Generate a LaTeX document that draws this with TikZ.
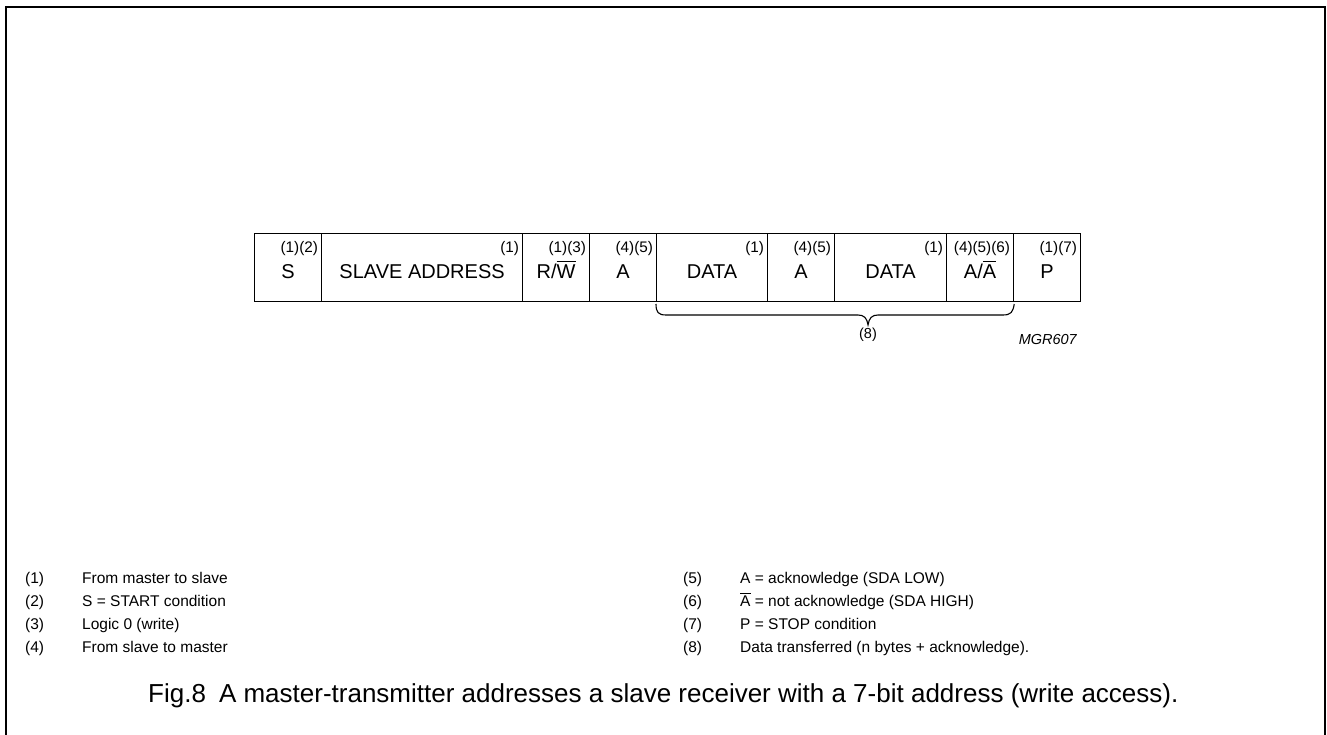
\documentclass[tikz,border=0pt]{standalone}
\usepackage{fontspec}
\setmainfont{Liberation Sans}
\newcommand\myovl[1]{\leavevmode\vbox{\hrule height 0.065em\kern0.1em\hbox{#1}}}
\begin{document}
\begin{tikzpicture}[x=1pt,y=-1pt,
  cell/.style={draw, line width=1.2pt, inner sep=0pt, minimum height=68pt, anchor=north west},
  main/.style={anchor=base, inner sep=0pt, font=\fontsize{20}{24}\selectfont},
  lab/.style={anchor=base east, inner sep=0pt, font=\fontsize{15.3}{18}\selectfont},
  leg/.style={anchor=base west, inner sep=0pt, font=\fontsize{15.5}{18}\selectfont},
  brace/.style={line width=1.1pt}]
\useasboundingbox (0,0) rectangle (1327,735);
\draw[line width=2pt] (6,736) -- (6,7) -- (1325,7) -- (1325,736);

% cells
\node[cell, minimum width=67pt]  (c1) at (254,233) {};
\node[cell, minimum width=201pt] (c2) at (321,233) {};
\node[cell, minimum width=67pt]  (c3) at (522,233) {};
\node[cell, minimum width=67pt]  (c4) at (589,233) {};
\node[cell, minimum width=111pt] (c5) at (656,233) {};
\node[cell, minimum width=67pt]  (c6) at (767,233) {};
\node[cell, minimum width=112pt] (c7) at (834,233) {};
\node[cell, minimum width=67pt]  (c8) at (946,233) {};
\node[cell, minimum width=67pt]  (c9) at (1013,233) {};

% main texts
\node[main] (t1) at (c1.center |- 0,278) {S};
\node[main] (t2) at (c2.center |- 0,278) {SLAVE ADDRESS};
\node[main] (t3) at (c3.center |- 0,278) {R/\myovl{W}};
\node[main] (t4) at (c4.center |- 0,278) {A};
\node[main] (t5) at (c5.center |- 0,278) {DATA};
\node[main] (t6) at (c6.center |- 0,278) {A};
\node[main] (t7) at (c7.center |- 0,278) {DATA};
\node[main] (t8) at (c8.center |- 0,278) {A/\myovl{A}};
\node[main] (t9) at (c9.center |- 0,278) {P};

% top labels
\foreach \c/\t in {c1/(1)(2), c2/(1), c3/(1)(3), c4/(4)(5), c5/(1), c6/(4)(5), c7/(1), c8/(4)(5)(6), c9/(1)(7)}
  \node[lab] (l\c) at ([xshift=-4pt]\c.north east |- 0,253) {\t};

% brace
\coordinate (bl) at (c5.south west |- 0,304);
\coordinate (br) at (c8.south east |- 0,304);
\coordinate (bt) at (868,325);
\draw[brace] (bl) .. controls (656,312) and (658,315) .. (666,315)
  -- (858,315) .. controls (864,315) and (867,318) .. (bt)
  .. controls (869,318) and (872,315) .. (878,315)
  -- (1003,315) .. controls (1011,315) and (1013,312) .. (br);
\node[anchor=base, inner sep=0pt, font=\fontsize{14.5}{16}\selectfont] (n8) at (868,338) {(8)};
\node[anchor=base east, inner sep=0pt, font=\fontsize{14.5}{16}\selectfont\itshape] (mgr) at (1077,344) {MGR607};

% legend
\node[leg] (a1) at (25,583) {(1)};
\node[leg] (b1) at (82,583) {From master to slave};
\node[leg] (a2) at (25,606) {(2)};
\node[leg] (b2) at (82,606) {S = START condition};
\node[leg] (a3) at (25,629) {(3)};
\node[leg] (b3) at (82,629) {Logic 0 (write)};
\node[leg] (a4) at (25,652) {(4)};
\node[leg] (b4) at (82,652) {From slave to master};
\node[leg] (a5) at (683,583) {(5)};
\node[leg] (b5) at (740,583) {A = acknowledge (SDA LOW)};
\node[leg] (a6) at (683,606) {(6)};
\node[leg] (b6) at (740,606) {\myovl{A} = not acknowledge (SDA HIGH)};
\node[leg] (a7) at (683,629) {(7)};
\node[leg] (b7) at (740,629) {P = STOP condition};
\node[leg] (a8) at (683,652) {(8)};
\node[leg] (b8) at (740,652) {Data transferred (n bytes + acknowledge).};

% caption
\node[anchor=base west, inner sep=0pt, font=\fontsize{26}{30}\selectfont] (cap) at (148,702)
  {Fig.8\hspace{0.5em}A master-transmitter addresses a slave receiver with a 7-bit address (write access).};
\end{tikzpicture}
\end{document}
